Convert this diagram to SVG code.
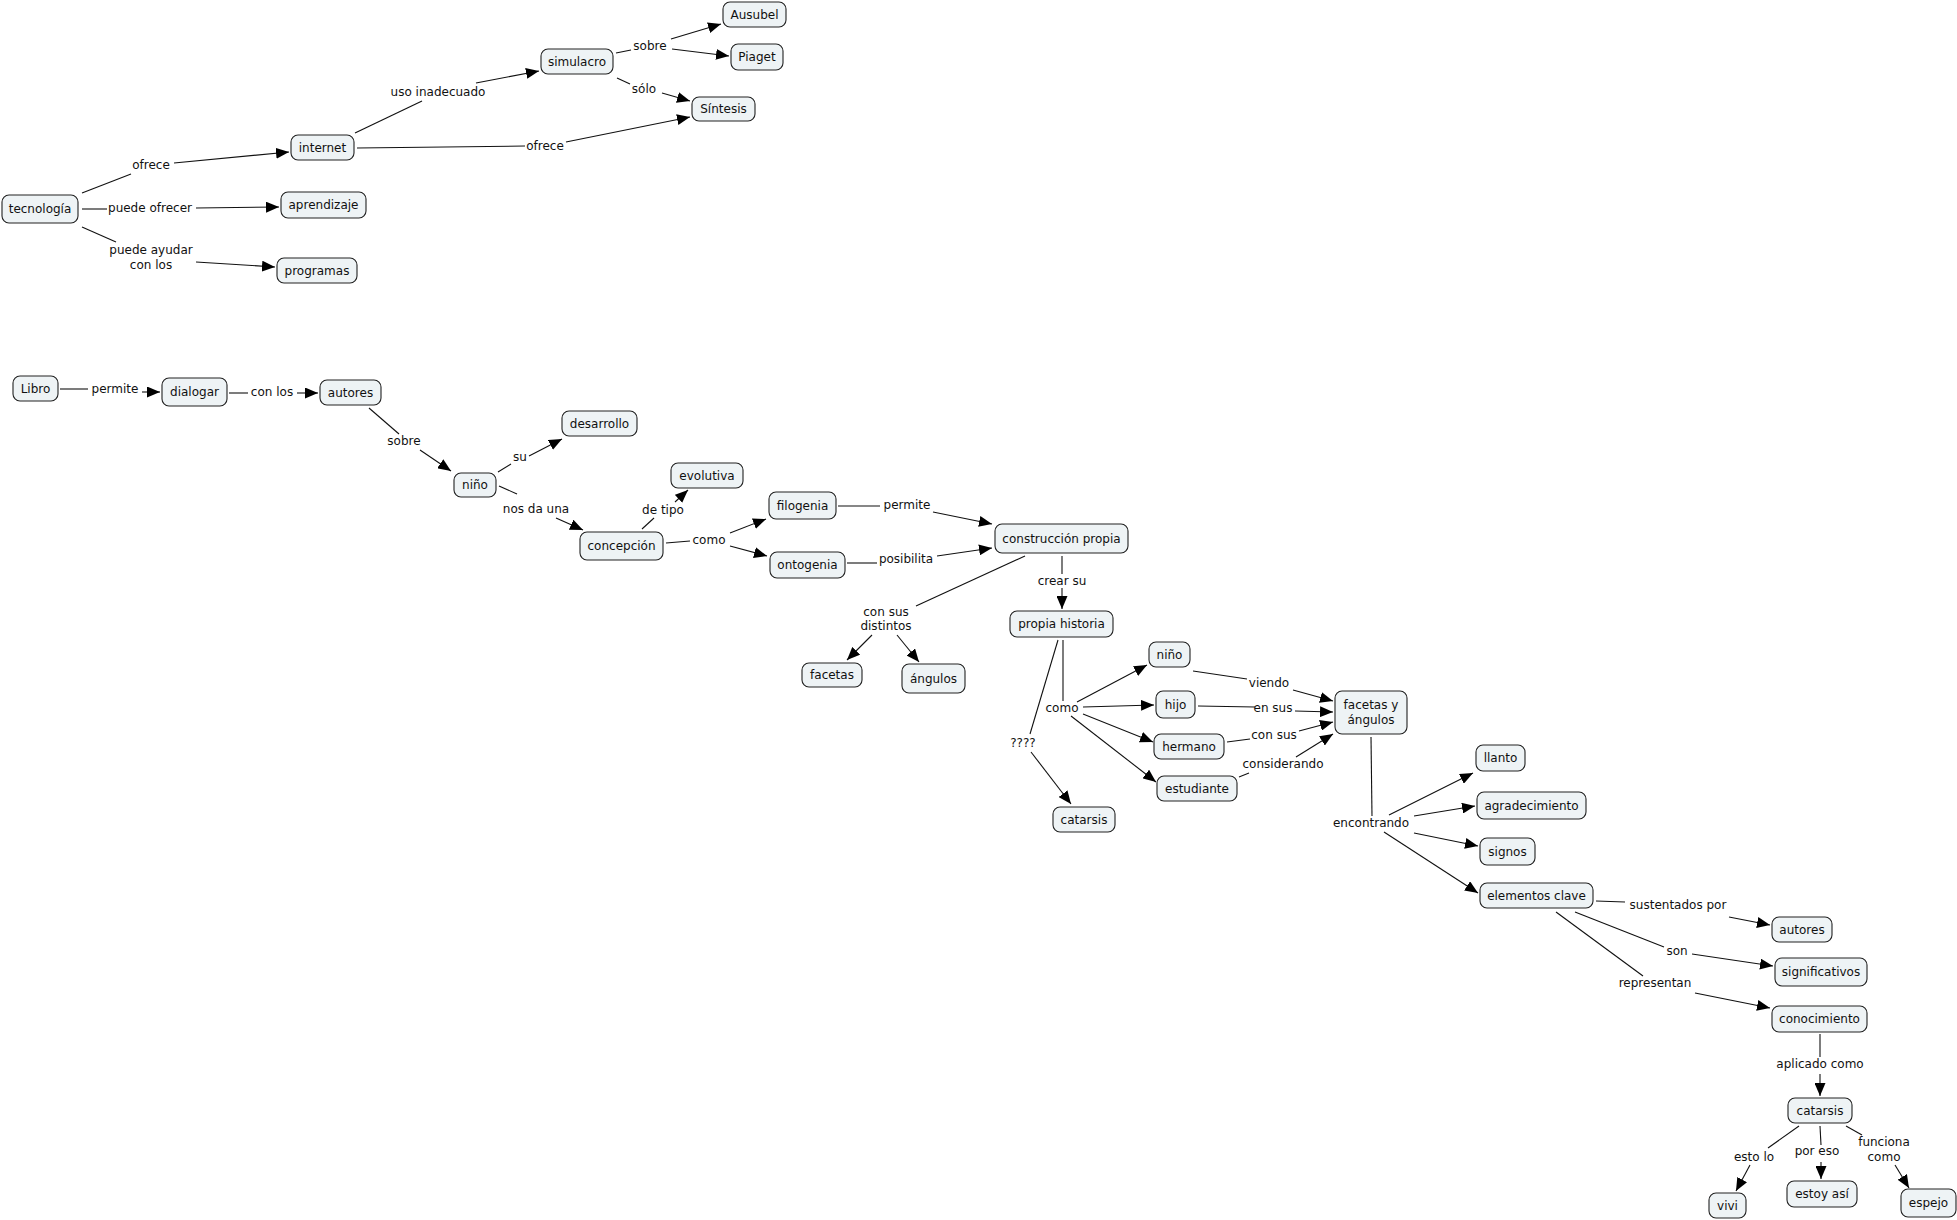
<svg xmlns="http://www.w3.org/2000/svg" width="1957" height="1220" viewBox="0 0 1957 1220">
<style>
.n rect{fill:#eef3f5;stroke:#222;stroke-width:1.1}
text{font-family:"DejaVu Sans",Verdana,sans-serif;font-size:12px;fill:#111;text-anchor:middle}
.c line{stroke:#111;stroke-width:1.1}
.c line.a{marker-end:url(#ah)}
</style>
<defs>
<marker id="ah" markerUnits="userSpaceOnUse" markerWidth="13" markerHeight="11" refX="13" refY="5.5" orient="auto"><path d="M0,0 L13,5.5 L0,11 z" fill="#000"/></marker>
</defs>
<rect width="1957" height="1220" fill="#fff"/>
<g class="c" id="connectors">
<line x1="82" y1="193" x2="131" y2="174"/><line class="a" x1="174" y1="163" x2="289" y2="152"/>
<line x1="82" y1="209" x2="107" y2="209"/><line class="a" x1="196" y1="208" x2="279" y2="207"/>
<line x1="82" y1="227" x2="116" y2="242"/><line class="a" x1="196" y1="262" x2="275" y2="267"/>
<line x1="355" y1="133" x2="422" y2="101"/><line class="a" x1="476" y1="83" x2="539" y2="71"/>
<line x1="357" y1="148" x2="525" y2="146"/><line class="a" x1="566" y1="142" x2="690" y2="117"/>
<line x1="616" y1="53" x2="631" y2="50"/><line class="a" x1="671" y1="39" x2="721" y2="24"/><line class="a" x1="672" y1="49" x2="729" y2="56"/>
<line x1="617" y1="78" x2="630" y2="84"/><line class="a" x1="662" y1="93" x2="690" y2="101"/>
<line x1="60" y1="389" x2="88" y2="389"/><line class="a" x1="142" y1="392" x2="160" y2="392"/>
<line x1="229" y1="393" x2="248" y2="393"/><line class="a" x1="297" y1="393" x2="318" y2="393"/>
<line x1="369" y1="408" x2="399" y2="434"/><line class="a" x1="420" y1="450" x2="451" y2="471"/>
<line x1="498" y1="472" x2="511" y2="464"/><line class="a" x1="529" y1="456" x2="562" y2="439"/>
<line x1="499" y1="486" x2="517" y2="494"/><line class="a" x1="556" y1="518" x2="583" y2="530"/>
<line x1="642" y1="529" x2="654" y2="518"/><line class="a" x1="675" y1="502" x2="688" y2="490"/>
<line x1="666" y1="543" x2="690" y2="541"/><line class="a" x1="730" y1="533" x2="766" y2="519"/><line class="a" x1="730" y1="546" x2="767" y2="556"/>
<line x1="838" y1="506" x2="880" y2="506"/><line class="a" x1="933" y1="512" x2="992" y2="524"/>
<line x1="847" y1="563" x2="877" y2="563"/><line class="a" x1="937" y1="556" x2="992" y2="548"/>
<line x1="1062" y1="556" x2="1062" y2="574"/><line class="a" x1="1062" y1="588" x2="1062" y2="609"/>
<line x1="1025" y1="556" x2="916" y2="606"/><line class="a" x1="872" y1="635" x2="847" y2="660"/><line class="a" x1="897" y1="635" x2="919" y2="662"/>
<line x1="1063" y1="640" x2="1063" y2="701"/><line x1="1058" y1="640" x2="1030" y2="734"/><line class="a" x1="1031" y1="752" x2="1071" y2="804"/>
<line class="a" x1="1077" y1="702" x2="1147" y2="665"/><line class="a" x1="1083" y1="707" x2="1154" y2="705"/><line class="a" x1="1083" y1="714" x2="1153" y2="742"/><line class="a" x1="1071" y1="716" x2="1156" y2="782"/>
<line x1="1193" y1="671" x2="1247" y2="679"/><line class="a" x1="1293" y1="690" x2="1333" y2="701"/>
<line x1="1198" y1="706" x2="1255" y2="707"/><line class="a" x1="1295" y1="711" x2="1333" y2="712"/>
<line x1="1227" y1="742" x2="1250" y2="739"/><line class="a" x1="1299" y1="731" x2="1333" y2="722"/>
<line x1="1239" y1="777" x2="1249" y2="773"/><line class="a" x1="1296" y1="757" x2="1333" y2="734"/>
<line x1="1371" y1="737" x2="1372" y2="816"/>
<line class="a" x1="1389" y1="815" x2="1473" y2="773"/><line class="a" x1="1414" y1="816" x2="1475" y2="806"/><line class="a" x1="1414" y1="833" x2="1478" y2="846"/><line class="a" x1="1384" y1="832" x2="1478" y2="893"/>
<line x1="1596" y1="901" x2="1625" y2="902"/><line class="a" x1="1729" y1="917" x2="1770" y2="925"/>
<line x1="1575" y1="912" x2="1664" y2="947"/><line class="a" x1="1692" y1="954" x2="1773" y2="966"/>
<line x1="1556" y1="912" x2="1643" y2="976"/><line class="a" x1="1695" y1="993" x2="1770" y2="1008"/>
<line x1="1820" y1="1034" x2="1820" y2="1057"/><line class="a" x1="1820" y1="1074" x2="1820" y2="1096"/>
<line x1="1799" y1="1126" x2="1768" y2="1148"/><line class="a" x1="1750" y1="1165" x2="1736" y2="1191"/>
<line x1="1820" y1="1126" x2="1821" y2="1145"/><line class="a" x1="1821" y1="1162" x2="1821" y2="1179"/>
<line x1="1846" y1="1126" x2="1862" y2="1135"/><line class="a" x1="1895" y1="1165" x2="1909" y2="1188"/>
</g>
<g id="linking-phrases">
<text x="151" y="169">ofrece</text>
<text x="150" y="212">puede ofrecer</text>
<text x="151" y="254">puede ayudar</text><text x="151" y="269">con los</text>
<text x="438" y="96">uso inadecuado</text>
<text x="545" y="150">ofrece</text>
<text x="650" y="50">sobre</text>
<text x="644" y="93">sólo</text>
<text x="115" y="393">permite</text>
<text x="272" y="396">con los</text>
<text x="404" y="445">sobre</text>
<text x="520" y="461">su</text>
<text x="536" y="513">nos da una</text>
<text x="663" y="514">de tipo</text>
<text x="709" y="544">como</text>
<text x="907" y="509">permite</text>
<text x="906" y="563">posibilita</text>
<text x="1062" y="585">crear su</text>
<text x="886" y="616">con sus</text><text x="886" y="630">distintos</text>
<text x="1062" y="712">como</text>
<text x="1023" y="747">????</text>
<text x="1269" y="687">viendo</text>
<text x="1273" y="712">en sus</text>
<text x="1274" y="739">con sus</text>
<text x="1283" y="768">considerando</text>
<text x="1371" y="827">encontrando</text>
<text x="1678" y="909">sustentados por</text>
<text x="1677" y="955">son</text>
<text x="1655" y="987">representan</text>
<text x="1820" y="1068">aplicado como</text>
<text x="1754" y="1161">esto lo</text>
<text x="1817" y="1155">por eso</text>
<text x="1884" y="1146">funciona</text><text x="1884" y="1161">como</text>
</g>
<g class="n" id="tecnologia"><rect x="2" y="195" width="76" height="28" rx="7"/><text x="40" y="213">tecnología</text></g>
<g class="n" id="internet"><rect x="291" y="135" width="63" height="25" rx="7"/><text x="322.5" y="151.5">internet</text></g>
<g class="n" id="aprendizaje"><rect x="281" y="192" width="85" height="26" rx="7"/><text x="323.5" y="209">aprendizaje</text></g>
<g class="n" id="programas"><rect x="277" y="258" width="80" height="25" rx="7"/><text x="317" y="274.5">programas</text></g>
<g class="n" id="simulacro"><rect x="541" y="49" width="72" height="25" rx="7"/><text x="577" y="65.5">simulacro</text></g>
<g class="n" id="ausubel"><rect x="723" y="2" width="63" height="25" rx="7"/><text x="754.5" y="18.5">Ausubel</text></g>
<g class="n" id="piaget"><rect x="731" y="44" width="52" height="26" rx="7"/><text x="757" y="61">Piaget</text></g>
<g class="n" id="sintesis"><rect x="692" y="97" width="63" height="24" rx="7"/><text x="723.5" y="113">Síntesis</text></g>
<g class="n" id="libro"><rect x="13" y="376" width="45" height="25" rx="7"/><text x="35.5" y="392.5">Libro</text></g>
<g class="n" id="dialogar"><rect x="162" y="378" width="65" height="28" rx="7"/><text x="194.5" y="396">dialogar</text></g>
<g class="n" id="autores1"><rect x="320" y="380" width="61" height="25" rx="7"/><text x="350.5" y="396.5">autores</text></g>
<g class="n" id="desarrollo"><rect x="562" y="411" width="75" height="25" rx="7"/><text x="599.5" y="427.5">desarrollo</text></g>
<g class="n" id="nino1"><rect x="454" y="473" width="42" height="24" rx="7"/><text x="475" y="489">niño</text></g>
<g class="n" id="concepcion"><rect x="580" y="532" width="83" height="28" rx="7"/><text x="621.5" y="550">concepción</text></g>
<g class="n" id="evolutiva"><rect x="671" y="463" width="72" height="25" rx="7"/><text x="707" y="479.5">evolutiva</text></g>
<g class="n" id="filogenia"><rect x="769" y="492" width="67" height="27" rx="7"/><text x="802.5" y="509.5">filogenia</text></g>
<g class="n" id="ontogenia"><rect x="770" y="552" width="75" height="26" rx="7"/><text x="807.5" y="569">ontogenia</text></g>
<g class="n" id="construccion"><rect x="995" y="524" width="133" height="29" rx="7"/><text x="1061.5" y="542.5">construcción propia</text></g>
<g class="n" id="propia-historia"><rect x="1010" y="611" width="103" height="26" rx="7"/><text x="1061.5" y="628">propia historia</text></g>
<g class="n" id="facetas"><rect x="802" y="663" width="60" height="24" rx="7"/><text x="832" y="679">facetas</text></g>
<g class="n" id="angulos"><rect x="902" y="664" width="63" height="29" rx="7"/><text x="933.5" y="682.5">ángulos</text></g>
<g class="n" id="nino2"><rect x="1149" y="642" width="41" height="25" rx="7"/><text x="1169.5" y="658.5">niño</text></g>
<g class="n" id="hijo"><rect x="1156" y="691" width="39" height="27" rx="7"/><text x="1175.5" y="708.5">hijo</text></g>
<g class="n" id="hermano"><rect x="1154" y="734" width="70" height="25" rx="7"/><text x="1189" y="750.5">hermano</text></g>
<g class="n" id="estudiante"><rect x="1157" y="776" width="80" height="25" rx="7"/><text x="1197" y="792.5">estudiante</text></g>
<g class="n" id="catarsis1"><rect x="1053" y="807" width="62" height="25" rx="7"/><text x="1084" y="823.5">catarsis</text></g>
<g class="n" id="facetas-angulos"><rect x="1335" y="691" width="72" height="43" rx="7"/><text x="1371" y="709">facetas y</text><text x="1371" y="724">ángulos</text></g>
<g class="n" id="llanto"><rect x="1476" y="745" width="49" height="26" rx="7"/><text x="1500.5" y="762">llanto</text></g>
<g class="n" id="agradecimiento"><rect x="1477" y="792" width="109" height="27" rx="7"/><text x="1531.5" y="809.5">agradecimiento</text></g>
<g class="n" id="signos"><rect x="1480" y="838" width="55" height="27" rx="7"/><text x="1507.5" y="855.5">signos</text></g>
<g class="n" id="elementos-clave"><rect x="1480" y="883" width="113" height="25" rx="7"/><text x="1536.5" y="899.5">elementos clave</text></g>
<g class="n" id="autores2"><rect x="1772" y="917" width="60" height="25" rx="7"/><text x="1802" y="933.5">autores</text></g>
<g class="n" id="significativos"><rect x="1775" y="958" width="92" height="28" rx="7"/><text x="1821" y="976">significativos</text></g>
<g class="n" id="conocimiento"><rect x="1772" y="1006" width="95" height="26" rx="7"/><text x="1819.5" y="1023">conocimiento</text></g>
<g class="n" id="catarsis2"><rect x="1788" y="1098" width="64" height="25" rx="7"/><text x="1820" y="1114.5">catarsis</text></g>
<g class="n" id="vivi"><rect x="1709" y="1193" width="37" height="25" rx="7"/><text x="1727.5" y="1209.5">vivi</text></g>
<g class="n" id="estoy-asi"><rect x="1787" y="1181" width="70" height="26" rx="7"/><text x="1822" y="1198">estoy así</text></g>
<g class="n" id="espejo"><rect x="1901" y="1189" width="55" height="28" rx="7"/><text x="1928.5" y="1207">espejo</text></g>
</svg>
